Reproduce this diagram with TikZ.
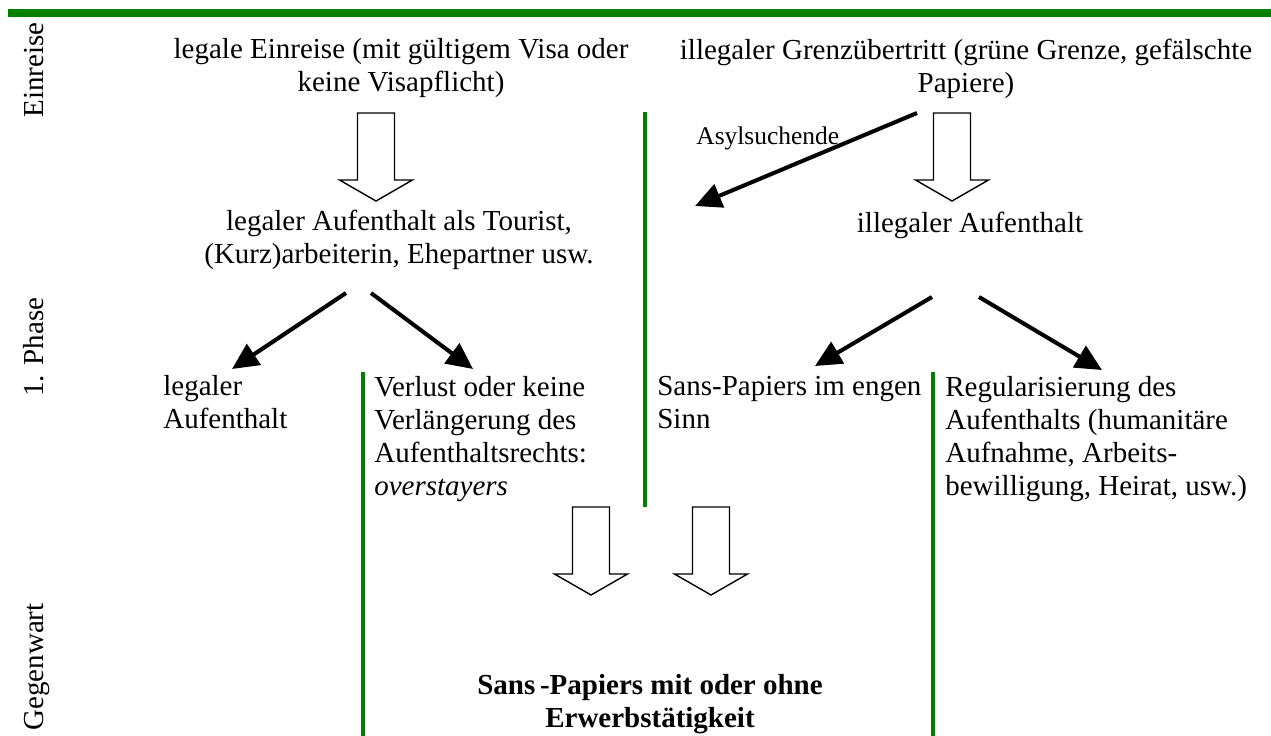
\documentclass[tikz,border=0pt]{standalone}
\usepackage{fontspec}
\setmainfont{Liberation Serif}
\usetikzlibrary{arrows.meta}

\tikzset{
  txt/.style={inner sep=0pt, font=\fontsize{16.5}{18.7}\selectfont, execute at begin node=\strut},
  phase/.style={inner sep=0pt, rotate=90, anchor=base, font=\fontsize{16.5}{18.7}\selectfont},
  sep/.style={green!50!black, line width=1.8pt},
  flow/.style={line width=2.3pt, -{Triangle[length=15pt,width=14pt]}},
  hollow/.style={line width=0.8pt, fill=white}
}

\begin{document}
\begin{tikzpicture}[x=0.02cm, y=-0.02cm]
    \useasboundingbox (0,0) rectangle (1271,736);

    % Green rules
    \draw[green!50!black, line width=4pt] (8,13) -- (1271,13);
    \draw[sep] (645,112) -- (645,507);
    \draw[sep] (363,372) -- (363,736);
    \draw[sep] (933,372) -- (933,736);

    % Phases on the left
    \node[phase] (einreise) at (43,70) {Einreise};
    \node[phase] (phase1) at (43,347) {1. Phase};
    \node[phase] (gegenwart) at (43,667) {Gegenwart};

    % Entry
    \node[txt, anchor=north, align=center] (legalin) at (401,38) {legale Einreise (mit gültigem Visa oder\\keine Visapflicht)};
    \node[txt, anchor=north, align=center] (illegalin) at (966,39) {illegaler Grenzübertritt (grüne Grenze, gefälschte\\Papiere)};

    % Stay
    \node[txt, anchor=north, align=center] (legalstay) at (399,210) {legaler Aufenthalt als Tourist,\\(Kurz)arbeiterin, Ehepartner usw.};
    \node[txt, anchor=north, align=center] (illegalstay) at (970,209) {illegaler Aufenthalt};
    \node[inner sep=0pt, anchor=base west, font=\fontsize{14.5}{16.5}\selectfont] (asyl) at (696,145) {Asylsuchende};

    % Outcomes
    \node[txt, anchor=north west, align=left] (legal) at (163,375) {legaler\\Aufenthalt};
    \node[txt, anchor=north west, align=left] (overstay) at (374,376) {Verlust oder keine\\Verlängerung des\\Aufenthaltsrechts:\\\textit{overstayers}};
    \node[txt, anchor=north west, align=left] (sanspap) at (657,376) {Sans-Papiers im engen\\Sinn};
    \node[txt, anchor=north west, align=left] (regular) at (945,376) {Regularisierung des\\Aufenthalts (humanitäre\\Aufnahme, Arbeits-\\bewilligung, Heirat, usw.)};

    % Today
    \node[txt, anchor=north, align=center, font=\fontsize{16.5}{18.7}\selectfont\bfseries] (today) at (650,674) {Sans\,-Papiers mit oder ohne\\Erwerbstätigkeit};

    % Hollow arrows
    \foreach \cx/\ty in {376/113, 952/113, 591/507, 711/507}
        \draw[hollow] (\cx-18.5,\ty) -- (\cx+18.5,\ty) -- (\cx+18.5,\ty+67) -- (\cx+36.5,\ty+67)
            -- (\cx,\ty+88) -- (\cx-36.5,\ty+67) -- (\cx-18.5,\ty+67) -- cycle;

    % Black arrows
    \coordinate (asylS) at (917,113);
    \coordinate (asylE) at (695,206);
    \coordinate (legalS) at (346,293);
    \coordinate (legalE) at (232,369);
    \coordinate (overS) at (371,293);
    \coordinate (overE) at (473,369);
    \coordinate (sansS) at (932,297);
    \coordinate (sansE) at (815,366);
    \coordinate (regS) at (979,297);
    \coordinate (regE) at (1102,370);
    \draw[flow] (asylS) -- (asylE);
    \draw[flow] (legalS) -- (legalE);
    \draw[flow] (overS) -- (overE);
    \draw[flow] (sansS) -- (sansE);
    \draw[flow] (regS) -- (regE);
\end{tikzpicture}
\end{document}
